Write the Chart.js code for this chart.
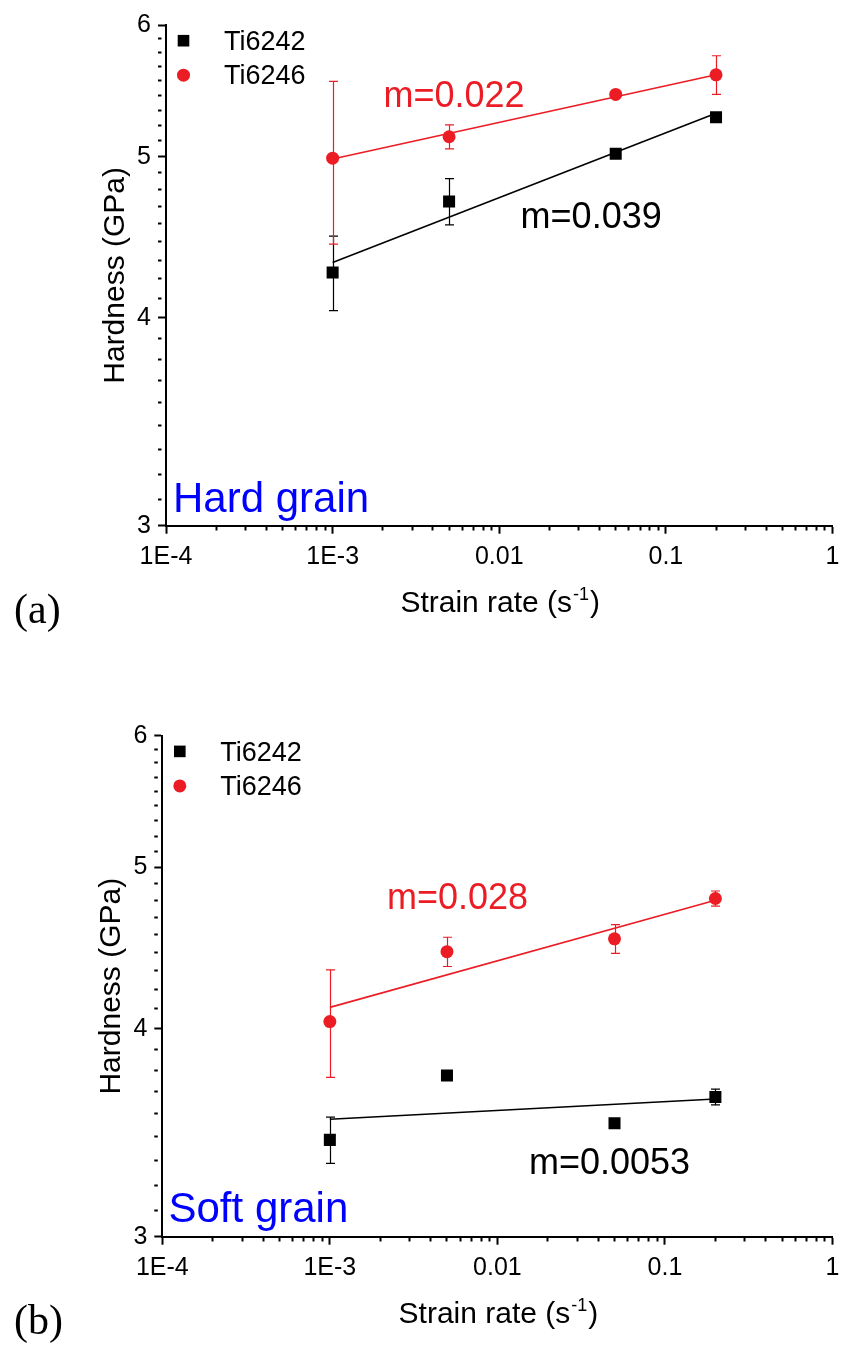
<!DOCTYPE html>
<html lang="en">
<head>
<meta charset="UTF-8">
<title>Hardness vs strain rate</title>
<script src="https://cdn.jsdelivr.net/npm/chart.js"></script>
<style>
  body { margin: 0; background: #fff; }
  canvas { position: absolute; left: 0; }
</style>
</head>
<body>
<canvas id="chartA" width="841" height="660" style="top:0px"></canvas>
<canvas id="chartB" width="841" height="642" style="top:711px"></canvas>
<script>
// strain rates (1/s) shared by all series
const rates = [0.001, 0.005, 0.05, 0.2];
const seriesNames = ['Ti6242', 'Ti6246'];

// (a) hard grain, hardness in GPa
const hardTi6242 = [4.26, 4.70, 5.02, 5.28];
const hardTi6242Err = [0.22, 0.15, 0.03, 0.02];
const hardTi6246 = [4.99, 5.14, 5.45, 5.60];
const hardTi6246Err = [0.56, 0.085, 0.02, 0.15];
const hardSlope6242 = 0.039;
const hardSlope6246 = 0.022;

// (b) soft grain
const softTi6242 = [3.43, 3.75, 3.51, 3.64];
const softTi6242Err = [0.11, 0.01, 0.02, 0.04];
const softTi6246 = [4.04, 4.45, 4.53, 4.79];
const softTi6246Err = [0.30, 0.09, 0.09, 0.05];
const softSlope6242 = 0.0053;
const softSlope6246 = 0.028;

// axis ticks
const xTickValues = [1e-4, 1e-3, 0.01, 0.1, 1];
const xTickLabels = ['1E-4', '1E-3', '0.01', '0.1', '1'];
const yTickValues = [3, 4, 5, 6];
const yTickLabels = ['3', '4', '5', '6'];

const BLACK = '#000000';
const RED = '#ec1c24';
const BLUE = '#0000ff';
const SANS = '"Liberation Sans", Arial, sans-serif';
const SERIF = '"Liberation Serif", "Times New Roman", serif';

// minor ticks: 2..9 per decade on x, 8 evenly spaced between majors on y
function xTicks() {
  const out = [];
  xTickValues.forEach((v, i) => {
    out.push({ value: v, major: true });
    if (i < xTickValues.length - 1) {
      for (let k = 2; k <= 9; k++) out.push({ value: v * k, major: false });
    }
  });
  return out;
}
function yTicks() {
  const out = [];
  yTickValues.forEach((v, i) => {
    out.push({ value: v, major: true });
    if (i < yTickValues.length - 1) {
      const step = (yTickValues[i + 1] - v) / 9;
      for (let k = 1; k <= 8; k++) out.push({ value: v + k * step, major: false });
    }
  });
  return out;
}

function labelFor(values, labels, v) {
  const i = values.findIndex(t => Math.abs(t / v - 1) < 1e-9);
  return i < 0 ? '' : labels[i];
}

// power-law fit line with slope m (log-log) through the data centroid
function fitLine(xs, ys, m) {
  const lx = xs.map(Math.log10), ly = ys.map(Math.log10);
  const mx = lx.reduce((a, b) => a + b, 0) / lx.length;
  const my = ly.reduce((a, b) => a + b, 0) / ly.length;
  return [xs[0], xs[xs.length - 1]].map(x => ({ x: x, y: Math.pow(10, my + m * (Math.log10(x) - mx)) }));
}

function points(xs, ys) {
  return xs.map((x, i) => ({ x: x, y: ys[i] }));
}

const errorBars = {
  id: 'errorBars',
  beforeDatasetsDraw(chart) {
    const ctx = chart.ctx, xs = chart.scales.x, ys = chart.scales.y;
    ctx.save();
    chart.data.datasets.forEach(ds => {
      if (!ds.errors) return;
      ctx.strokeStyle = ds.borderColor;
      ctx.lineWidth = 1.2;
      ds.data.forEach((p, i) => {
        const e = ds.errors[i];
        const px = Math.round(xs.getPixelForValue(p.x)) + 0.5;
        const top = ys.getPixelForValue(p.y + e);
        const bot = ys.getPixelForValue(p.y - e);
        ctx.beginPath();
        ctx.moveTo(px, top); ctx.lineTo(px, bot);
        ctx.moveTo(px - 4.5, top); ctx.lineTo(px + 4.5, top);
        ctx.moveTo(px - 4.5, bot); ctx.lineTo(px + 4.5, bot);
        ctx.stroke();
      });
    });
    ctx.restore();
  }
};

const panelText = {
  id: 'panelText',
  afterDraw(chart, args, opts) {
    const ctx = chart.ctx, ca = chart.chartArea;
    ctx.save();
    ctx.textBaseline = 'alphabetic';
    ctx.textAlign = 'left';

    // legend
    chart.data.datasets.slice(0, 2).forEach((ds, i) => {
      const mx = ca.left + 17.5, my = ca.top + 15.7 + i * 34.5;
      ctx.fillStyle = ds.backgroundColor;
      if (ds.pointStyle === 'rect') {
        ctx.fillRect(mx - 5.8, my - 5.8, 11.6, 11.6);
      } else {
        ctx.beginPath(); ctx.arc(mx, my, 6.5, 0, Math.PI * 2); ctx.fill();
      }
      ctx.fillStyle = BLACK;
      ctx.font = '27px ' + SANS;
      ctx.fillText(ds.label, ca.left + 58, ca.top + 25 + i * 34);
    });

    // slope labels and grain type
    opts.notes.forEach(n => {
      ctx.fillStyle = n.color;
      ctx.font = n.size + 'px ' + SANS;
      ctx.fillText(n.text, n.x, n.y);
    });

    // x title with superscript
    ctx.fillStyle = BLACK;
    const main = 'Strain rate (s', sup = '-1', close = ')';
    ctx.font = '30px ' + SANS;
    const w1 = ctx.measureText(main).width, w3 = ctx.measureText(close).width;
    ctx.font = '18px ' + SANS;
    const w2 = ctx.measureText(sup).width;
    let x = (ca.left + ca.right) / 2 - (w1 + w2 + w3) / 2;
    const by = ca.bottom + 86;
    ctx.font = '30px ' + SANS;
    ctx.fillText(main, x, by);
    ctx.font = '18px ' + SANS;
    ctx.fillText(sup, x + w1 + 1, by - 12);
    ctx.font = '30px ' + SANS;
    ctx.fillText(close, x + w1 + w2 + 2, by);

    // y title
    ctx.save();
    ctx.translate(ca.left - 42, (ca.top + ca.bottom) / 2);
    ctx.rotate(-Math.PI / 2);
    ctx.textAlign = 'center';
    ctx.fillText('Hardness (GPa)', 0, 0);
    ctx.restore();

    // panel letter
    ctx.font = '42px ' + SERIF;
    ctx.fillText(opts.panel, 14, ca.top + 598);
    ctx.restore();
  }
};

function makePanel(id, cfg) {
  const canvas = document.getElementById(id);
  const W = canvas.width, H = canvas.height;
  const b = cfg.box;
  return new Chart(canvas, {
    type: 'scatter',
    data: {
      datasets: [
        { label: seriesNames[0], data: points(rates, cfg.h6242), errors: cfg.e6242,
          pointStyle: 'rect', pointRadius: 8.5, pointHoverRadius: 8.5,
          backgroundColor: BLACK, borderColor: BLACK, borderWidth: 0 },
        { label: seriesNames[1], data: points(rates, cfg.h6246), errors: cfg.e6246,
          pointStyle: 'circle', pointRadius: 6.5, pointHoverRadius: 6.5,
          backgroundColor: RED, borderColor: RED, borderWidth: 0 },
        { label: 'fit 6242', data: fitLine(rates, cfg.h6242, cfg.m6242), showLine: true,
          pointRadius: 0, borderColor: BLACK, backgroundColor: BLACK, borderWidth: 1.6 },
        { label: 'fit 6246', data: fitLine(rates, cfg.h6246, cfg.m6246), showLine: true,
          pointRadius: 0, borderColor: RED, backgroundColor: RED, borderWidth: 1.6 }
      ]
    },
    options: {
      responsive: false,
      maintainAspectRatio: false,
      animation: false,
      events: [],
      layout: { padding: { left: 0, top: b.top, right: W - b.right, bottom: H - b.bottom - 60 } },
      plugins: {
        legend: { display: false },
        tooltip: { enabled: false },
        panelText: { notes: cfg.notes, panel: cfg.panel }
      },
      scales: {
        x: {
          type: 'logarithmic', position: 'bottom', min: 1e-4, max: 1,
          afterBuildTicks: s => { s.ticks = xTicks(); },
          afterFit: s => { s.height = 60; s.paddingLeft = 0; s.paddingRight = 0; },
          ticks: {
            autoSkip: false, maxRotation: 0, minRotation: 0, padding: 8,
            color: BLACK, font: { family: SANS, size: 25 },
            callback: v => labelFor(xTickValues, xTickLabels, v)
          },
          grid: {
            drawOnChartArea: false, drawTicks: true, tickLength: 8, tickWidth: 2, tickColor: BLACK,
            tickBorderDash: c => (c.tick && c.tick.major) ? [] : [3.5, 30]
          },
          border: { display: true, color: BLACK, width: 2 }
        },
        y: {
          type: 'logarithmic', position: 'left', min: 3, max: 6,
          afterBuildTicks: s => { s.ticks = yTicks(); },
          afterFit: s => { s.width = b.left; s.paddingTop = 0; s.paddingBottom = 0; },
          ticks: {
            autoSkip: false, padding: 7,
            color: BLACK, font: { family: SANS, size: 25 },
            callback: v => labelFor(yTickValues, yTickLabels, v)
          },
          grid: {
            drawOnChartArea: false, drawTicks: true, tickLength: 8, tickWidth: 2, tickColor: BLACK,
            tickBorderDash: c => (c.tick && c.tick.major) ? [] : [3.5, 30]
          },
          border: { display: true, color: BLACK, width: 2 }
        }
      }
    },
    plugins: [errorBars, panelText]
  });
}

makePanel('chartA', {
  box: { left: 166, top: 25, right: 839.3, bottom: 525.7 },
  h6242: hardTi6242, e6242: hardTi6242Err, m6242: hardSlope6242,
  h6246: hardTi6246, e6246: hardTi6246Err, m6246: hardSlope6246,
  panel: '(a)',
  notes: [
    { text: 'm=' + hardSlope6246, color: RED, size: 36, x: 383.5, y: 106.7 },
    { text: 'm=' + hardSlope6242, color: BLACK, size: 36, x: 520.6, y: 227.7 },
    { text: 'Hard grain', color: BLUE, size: 42, x: 173, y: 511.7 }
  ]
});

makePanel('chartB', {
  box: { left: 162.3, top: 24.7, right: 835, bottom: 525.7 },
  h6242: softTi6242, e6242: softTi6242Err, m6242: softSlope6242,
  h6246: softTi6246, e6246: softTi6246Err, m6246: softSlope6246,
  panel: '(b)',
  notes: [
    { text: 'm=' + softSlope6246, color: RED, size: 36, x: 386.9, y: 198.3 },
    { text: 'm=' + softSlope6242, color: BLACK, size: 36, x: 529, y: 463.3 },
    { text: 'Soft grain', color: BLUE, size: 42, x: 168.5, y: 510.7 }
  ]
});
</script>
</body>
</html>
